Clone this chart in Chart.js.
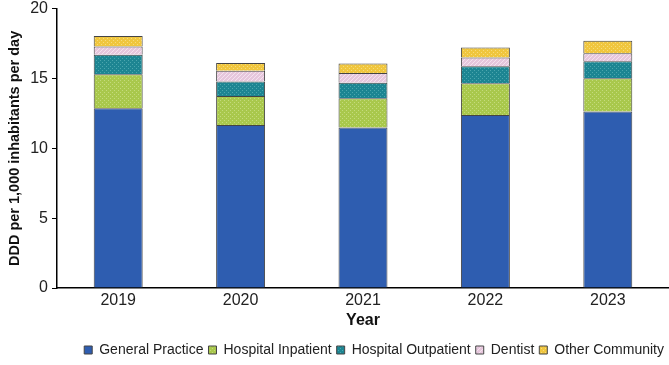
<!DOCTYPE html>
<html>
<head>
<meta charset="utf-8">
<script src="https://cdn.jsdelivr.net/npm/chart.js@4/dist/chart.umd.min.js"></script>
<style>
  html, body { margin: 0; padding: 0; background: #fff; }
  #wrap { width: 669px; height: 365px; }
</style>
</head>
<body>
<div id="wrap"><canvas id="dddChart"></canvas></div>
<script>
// Values (DDD per 1,000 inhabitants per day)
const years = ['2019', '2020', '2021', '2022', '2023'];
const generalPractice = [12.88, 11.68, 11.49, 12.40, 12.64];
const hospitalInpatient = [2.44, 2.08, 2.11, 2.27, 2.39];
const hospitalOutpatient = [1.38, 1.03, 1.10, 1.22, 1.22];
const dentist = [0.60, 0.77, 0.71, 0.62, 0.57];
const otherCommunity = [0.76, 0.55, 0.67, 0.72, 0.89];
const yTicks = [0, 5, 10, 15, 20];

// small dotted fill, like the office-style pattern fills
function makePattern(base, dot, kind) {
    const c = document.createElement('canvas');
    c.width = 4;
    c.height = 4;
    const g = c.getContext('2d');
    g.fillStyle = base;
    g.fillRect(0, 0, 4, 4);
    g.fillStyle = dot;
    if (kind === 'dots') {
        g.fillRect(0, 0, 1, 1);
        g.fillRect(2, 2, 1, 1);
    } else if (kind === 'hatch') {
        g.fillRect(0, 3, 1, 1);
        g.fillRect(1, 2, 1, 1);
        g.fillRect(2, 1, 1, 1);
        g.fillRect(3, 0, 1, 1);
    } else if (kind === 'vert') {
        g.fillRect(1, 0, 1, 1);
        g.fillRect(3, 2, 1, 1);
    }
    return g.createPattern(c, 'repeat');
}

const font = "'Liberation Sans', Arial, sans-serif";
const edge = '#444444';

const datasets = [
    { label: 'General Practice', data: generalPractice, backgroundColor: '#2e5db0' },
    { label: 'Hospital Inpatient', data: hospitalInpatient, backgroundColor: makePattern('#a9c84c', '#c4db7c', 'dots') },
    { label: 'Hospital Outpatient', data: hospitalOutpatient, backgroundColor: makePattern('#1d8592', '#4ba6ae', 'dots') },
    { label: 'Dentist', data: dentist, backgroundColor: makePattern('#e6c6dc', '#f4e3ee', 'hatch') },
    { label: 'Other Community', data: otherCommunity, backgroundColor: makePattern('#f0c63e', '#f7dc7c', 'vert') }
].map(ds => Object.assign(ds, {
    borderColor: edge,
    borderWidth: 1,
    barPercentage: 0.4,
    categoryPercentage: 1.0
}));

new Chart(document.getElementById('dddChart'), {
    type: 'bar',
    data: { labels: years, datasets: datasets },
    options: {
        responsive: true,
        maintainAspectRatio: false,
        animation: false,
        layout: { padding: { top: 0, right: 0, left: 4, bottom: -2 } },
        plugins: {
            tooltip: { enabled: false },
            legend: {
                position: 'bottom',
                align: 'end',
                labels: {
                    font: { family: font, size: 14 },
                    color: '#222',
                    boxWidth: 8,
                    boxHeight: 8,
                    padding: 5
                }
            }
        },
        scales: {
            x: {
                stacked: true,
                afterFit: axis => { axis.height = 50; },
                grid: { display: false, drawTicks: false },
                border: { display: true, color: '#000', width: 1.5 },
                ticks: { font: { family: font, size: 16 }, color: '#222', padding: 3 },
                title: { display: true, text: 'Year', font: { family: font, size: 16, weight: 'bold' }, color: '#111', padding: { top: 2, bottom: 8 } }
            },
            y: {
                stacked: true,
                min: 0,
                max: 20,
                afterBuildTicks: axis => { axis.ticks = yTicks.map(v => ({ value: v })); },
                afterFit: axis => { axis.width = 53; },
                grid: { drawOnChartArea: false, drawTicks: true, tickLength: 5, color: '#000' },
                border: { display: true, color: '#000', width: 1.5 },
                ticks: { font: { family: font, size: 16, lineHeight: 0.6 }, color: '#222', padding: 4 },
                title: { display: true, text: 'DDD per 1,000 inhabitants per day', font: { family: font, size: 14.5, weight: 'bold' }, color: '#111', padding: 2 }
            }
        }
    }
});
</script>
</body>
</html>
